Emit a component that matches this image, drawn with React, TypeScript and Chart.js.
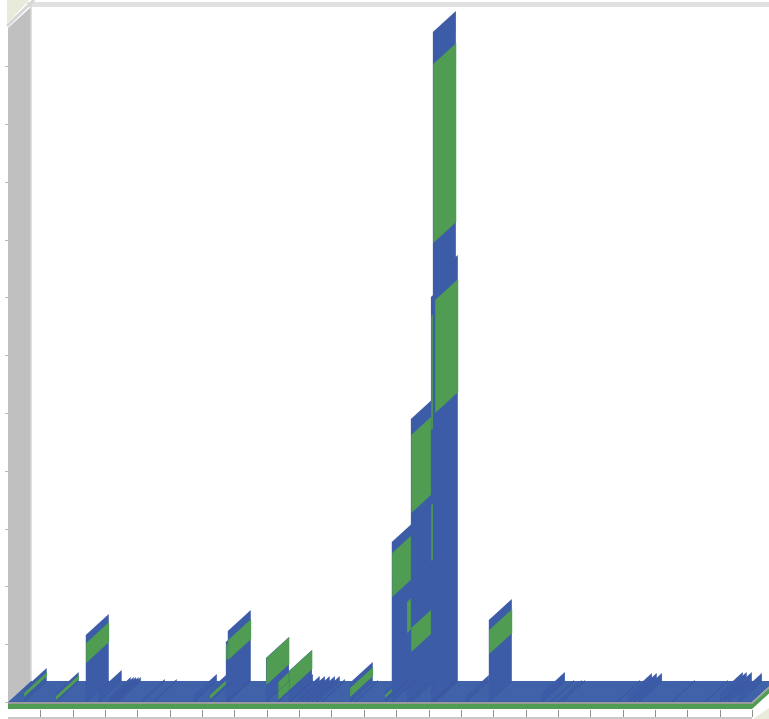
import React, { useEffect, useRef } from "react";
import { Chart, registerables } from "chart.js";

Chart.register(...registerables);

const columnPositions = [0.49,1.48,2.41,2.81,3.09,3.18,3.25,3.33,3.40,4.14,4.51,5.75,6.24,6.74,6.80,7.98,8.35,8.69,8.72,8.93,9.09,9.24,9.40,9.55,9.71,10.57,10.73,11.65,11.87,12.33,12.46,13.08,13.14,13.20,14.16,14.87,16.51,16.79,17.03,17.13,18.83,19.20,19.35,19.51,20.53,21.55,22.01,22.13,22.29,22.60];
const columnValues = [2.25,1.56,11.59,1.90,0.69,0.69,0.69,0.69,0.69,0.35,0.35,1.21,2.08,10.38,12.28,7.61,3.46,5.36,1.21,0.87,0.87,0.87,0.87,0.87,0.35,3.29,0.17,1.73,27.68,17.30,48.96,70.07,115.92,73.70,1.04,14.19,1.56,0.17,0.17,0.17,0.17,1.38,1.38,1.38,0.17,0.17,1.56,1.56,1.56,1.38];

const bandPositions = [0.49,1.48,2.41,6.24,6.74,6.80,7.98,8.35,8.69,10.57,11.65,11.87,12.33,12.46,12.46,13.08,13.08,13.14,13.20,14.87];
const bandLows = [0.87,0.35,6.75,0.52,7.27,7.27,2.94,0.35,2.08,0.87,0.69,18.17,11.94,8.65,32.70,24.39,47.06,79.41,50.0,8.30];
const bandHighs = [1.56,1.04,10.21,1.21,9.86,10.73,7.61,3.46,5.36,2.42,1.21,25.78,17.30,12.80,46.19,34.08,66.78,110.38,69.55,12.46];

const xTickValues = [1,2,3,4,5,6,7,8,9,10,11,12,13,14,15,16,17,18,19,20,21,22,23];
const yTickValues = [0,10,20,30,40,50,60,70,80,90,100,110];

const BLUE = "#3D5CA7";
const GREEN = "#4F9C52";
const FLOOR = "#3F62A8";
const DX = 23;
const DY = -21;

const poly = (ctx: CanvasRenderingContext2D, pts: number[][], fill: string) => {
  ctx.beginPath();
  pts.forEach((p, i) => (i ? ctx.lineTo(p[0], p[1]) : ctx.moveTo(p[0], p[1])));
  ctx.closePath();
  ctx.fillStyle = fill;
  ctx.fill();
};

const scene = {
  id: "scene",
  beforeDatasetsDraw(chart: any) {
    const ctx: CanvasRenderingContext2D = chart.ctx;
    const { left: L, right: R, top: T, bottom: B } = chart.chartArea;
    const w = chart.width;
    const h = chart.height;
    ctx.save();

    // top edge of back wall and corner
    ctx.fillStyle = "#E0E0E0";
    ctx.fillRect(L + DX - 4, 2, w, 5);
    poly(ctx, [[L - 1, 0], [L + 21, 0], [L - 1, 24]], "#E8EADA");

    // left wall
    poly(ctx, [[L, T + 1], [L + DX, T + DY + 1], [L + DX, B + DY], [L, B]], "#C0C0C0");
    ctx.strokeStyle = "#D6D6D6";
    ctx.lineWidth = 3;
    ctx.beginPath();
    ctx.moveTo(L - 1, T - 1);
    ctx.lineTo(L + DX + 3, 0);
    ctx.stroke();
    ctx.lineWidth = 1.5;
    ctx.beginPath();
    ctx.moveTo(L + DX, 6);
    ctx.lineTo(L + DX, B + DY);
    ctx.stroke();

    // value ticks
    const ys = chart.scales.y;
    const xs = chart.scales.x;
    ctx.strokeStyle = "#B8B8B8";
    ctx.lineWidth = 1;
    yTickValues.forEach((v) => {
      const y = Math.round(ys.getPixelForValue(v)) + 0.5;
      ctx.beginPath();
      ctx.moveTo(L - 3, y);
      ctx.lineTo(L, y);
      ctx.stroke();
    });

    // floor
    poly(ctx, [[L, B], [R, B], [R + DX, B + DY], [L + DX, B + DY]], FLOOR);

    // columns, back to front
    const items: { x: number; y: number; base: number; color: string; rank: number }[] = [];
    chart.data.datasets.forEach((d: any, i: number) => {
      chart.getDatasetMeta(i).data.forEach((el: any) => {
        items.push({ x: el.x, y: el.y, base: el.base, color: d.backgroundColor, rank: i });
      });
    });
    items.sort((a, b) => a.x - b.x || a.rank - b.rank);
    items.forEach((it) => {
      poly(
        ctx,
        [[it.x, it.base], [it.x, it.y], [it.x + DX, it.y + DY], [it.x + DX, it.base + DY]],
        it.color
      );
    });

    // streaks on the floor where columns stand
    ctx.strokeStyle = "rgba(45,70,135,0.3)";
    ctx.lineWidth = 1;
    columnPositions.forEach((v) => {
      const x = xs.getPixelForValue(v);
      ctx.beginPath();
      ctx.moveTo(x, B);
      ctx.lineTo(x + DX, B + DY);
      ctx.stroke();
    });

    // front edge of floor
    poly(ctx, [[L, B], [R, B], [R + DX, B + DY], [R + DX, B + DY + 2], [R, B + 2], [L, B + 2]], "#9A9A9A");
    poly(ctx, [[L, B + 2], [R, B + 2], [R + DX, B + DY + 2], [R + DX, B + DY + 7], [R, B + 7], [L, B + 7]], GREEN);

    // base strip
    ctx.fillStyle = "#C8C8C8";
    ctx.fillRect(L, B + 15, R - L, 2);
    poly(ctx, [[R + 1, h], [w, B + 6], [w, h]], "#E8EADA");
    ctx.strokeStyle = "#8E8E8E";
    xTickValues.forEach((v) => {
      const x = Math.round(xs.getPixelForValue(v)) + 0.5;
      ctx.beginPath();
      ctx.moveTo(x, B + 8);
      ctx.lineTo(x, B + 15);
      ctx.stroke();
    });

    ctx.restore();
    return false;
  },
};

export default function App() {
  const ref = useRef<HTMLCanvasElement>(null);
  useEffect(() => {
    document.body.style.margin = "0";
    const chart = new Chart(ref.current as HTMLCanvasElement, {
      type: "bar",
      data: {
        datasets: [
          {
            label: "Total",
            backgroundColor: BLUE,
            data: columnPositions.map((x, i) => ({ x, y: [0, columnValues[i]] })),
          },
          {
            label: "Share",
            backgroundColor: GREEN,
            data: bandPositions.map((x, i) => ({ x, y: [bandLows[i], bandHighs[i]] })),
          },
        ],
      } as any,
      options: {
        animation: false,
        responsive: false,
        layout: { padding: { left: 8, top: 27, right: 17, bottom: 17 } },
        plugins: { legend: { display: false }, tooltip: { enabled: false } },
        scales: {
          x: { type: "linear", min: 0, max: 23, display: false, offset: false },
          y: { type: "linear", min: 0, max: 116.8, display: false },
        },
      },
      plugins: [scene],
    } as any);
    return () => chart.destroy();
  }, []);
  return (
    <canvas
      ref={ref}
      width={769}
      height={719}
      style={{ display: "block", width: 769, height: 719, filter: "blur(0.5px)" }}
    />
  );
}
